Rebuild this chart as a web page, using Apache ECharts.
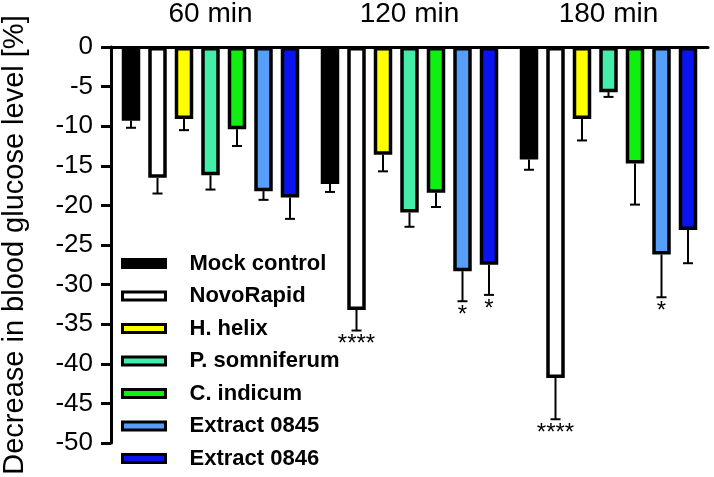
<!DOCTYPE html>
<html>
<head>
<meta charset="utf-8">
<script src="https://cdn.jsdelivr.net/npm/echarts@6/dist/echarts.min.js"></script>
<style>
  html, body { margin: 0; padding: 0; background: #fff; }
  #chart { width: 714px; height: 477px; }
</style>
</head>
<body>
<div id="chart"></div>
<script>
// time points
var categories = ['60 min', '120 min', '180 min'];
var yTicks = [0, -5, -10, -15, -20, -25, -30, -35, -40, -45, -50];

// mean decrease per group, and one-sided error (SEM)
var mockControl = [-9.3, -17.3, -14.2];
var mockControlErr = [0.9, 1.0, 1.3];
var novoRapid = [-16.5, -33.2, -41.8];
var novoRapidErr = [2.0, 2.6, 5.2];
var hHelix = [-9.1, -13.6, -9.1];
var hHelixErr = [1.4, 2.1, 2.7];
var pSomniferum = [-16.2, -20.9, -5.7];
var pSomniferumErr = [1.8, 1.8, 0.6];
var cIndicum = [-10.4, -18.4, -14.7];
var cIndicumErr = [2.1, 1.8, 5.2];
var extract0845 = [-18.2, -28.3, -26.2];
var extract0845Err = [1.1, 3.8, 5.4];
var extract0846 = [-19.0, -27.5, -23.1];
var extract0846Err = [2.7, 3.8, 4.2];

// significance marks
var novoRapidStars = ['', '****', '****'];
var extract0845Stars = ['', '*', '*'];
var extract0846Stars = ['', '*', ''];
var noStars = ['', '', ''];

var groups = [
  { name: 'Mock control', color: '#000000', val: mockControl, err: mockControlErr, stars: noStars },
  { name: 'NovoRapid', color: '#ffffff', val: novoRapid, err: novoRapidErr, stars: novoRapidStars },
  { name: 'H. helix', color: '#ffff00', val: hHelix, err: hHelixErr, stars: noStars },
  { name: 'P. somniferum', color: '#44eeaa', val: pSomniferum, err: pSomniferumErr, stars: noStars },
  { name: 'C. indicum', color: '#11ee11', val: cIndicum, err: cIndicumErr, stars: noStars },
  { name: 'Extract 0845', color: '#569ef7', val: extract0845, err: extract0845Err, stars: extract0845Stars },
  { name: 'Extract 0846', color: '#0a14f0', val: extract0846, err: extract0846Err, stars: extract0846Stars }
];

var font = 'Arial, "Liberation Sans", sans-serif';
var barW = 18.5;
var pitch = 26.5;
var gapPct = (pitch - barW) / barW;

var barSeries = groups.map(function (g) {
  return {
    name: g.name,
    type: 'bar',
    data: g.val,
    barWidth: barW,
    barGap: (gapPct * 100) + '%',
    itemStyle: { color: g.color, borderColor: '#000', borderWidth: 3.5 },
    z: 2
  };
});

var errData = [];
var errStars = [];
groups.forEach(function (g, s) {
  g.val.forEach(function (v, c) {
    errData.push([c, v, g.err[c], s]);
    errStars.push(g.stars[c]);
  });
});

var errSeries = {
  type: 'custom',
  data: errData,
  encode: { x: 0, y: 1 },
  z: 5,
  silent: true,
  renderItem: function (params, api) {
    var c = api.value(0), v = api.value(1), e = api.value(2), s = api.value(3);
    var base = api.coord([c, v]);
    var end = api.coord([c, v - e]);
    var x = base[0] + (s - 3) * pitch;
    var children = [
      { type: 'line', shape: { x1: x, y1: base[1], x2: x, y2: end[1] }, style: { stroke: '#000', lineWidth: 2 } },
      { type: 'line', shape: { x1: x - 5, y1: end[1], x2: x + 5, y2: end[1] }, style: { stroke: '#000', lineWidth: 2 } }
    ];
    var st = errStars[params.dataIndex];
    if (st) {
      children.push({
        type: 'text',
        style: { text: st, x: x, y: end[1] + 2, align: 'center', verticalAlign: 'top', font: '24px ' + font, fill: '#000' }
      });
    }
    return { type: 'group', children: children };
  }
};

var chart = echarts.init(document.getElementById('chart'));
chart.setOption({
  animation: false,
  textStyle: { fontFamily: font },
  grid: { left: 111, top: 47, right: 6, bottom: 34, outerBoundsMode: 'none', containLabel: false },
  legend: {
    orient: 'vertical',
    left: 116,
    top: 247.5,
    icon: 'rect',
    itemWidth: 43,
    itemHeight: 8,
    itemGap: 10.5,
    data: groups.map(function (g) { return g.name; }),
    itemStyle: { borderColor: '#000', borderWidth: 3 },
    textStyle: { fontFamily: font, fontWeight: 'bold', fontSize: 22, color: '#000', lineHeight: 22, padding: [0, 0, 0, 19] }
  },
  xAxis: {
    type: 'category',
    position: 'top',
    data: categories,
    axisLine: { lineStyle: { color: '#000', width: 3 } },
    axisTick: { alignWithLabel: true, length: 10, lineStyle: { color: '#000', width: 3 } },
    axisLabel: { color: '#000', fontSize: 28, fontFamily: font, margin: 19 }
  },
  yAxis: {
    type: 'value',
    min: -50,
    max: 0,
    interval: 5,
    name: 'Decrease in blood glucose level [%]',
    nameLocation: 'middle',
    nameGap: 82,
    nameTextStyle: { color: '#000', fontSize: 29, fontFamily: font },
    axisLine: { show: true, lineStyle: { color: '#000', width: 3 } },
    axisTick: { show: true, length: 10, lineStyle: { color: '#000', width: 3 } },
    axisLabel: { color: '#000', fontSize: 26, fontFamily: font, margin: 18,
      formatter: function (v) { return yTicks.indexOf(v) >= 0 ? String(v) : ''; } },
    splitLine: { show: false }
  },
  series: barSeries.concat([errSeries])
});
</script>
</body>
</html>
